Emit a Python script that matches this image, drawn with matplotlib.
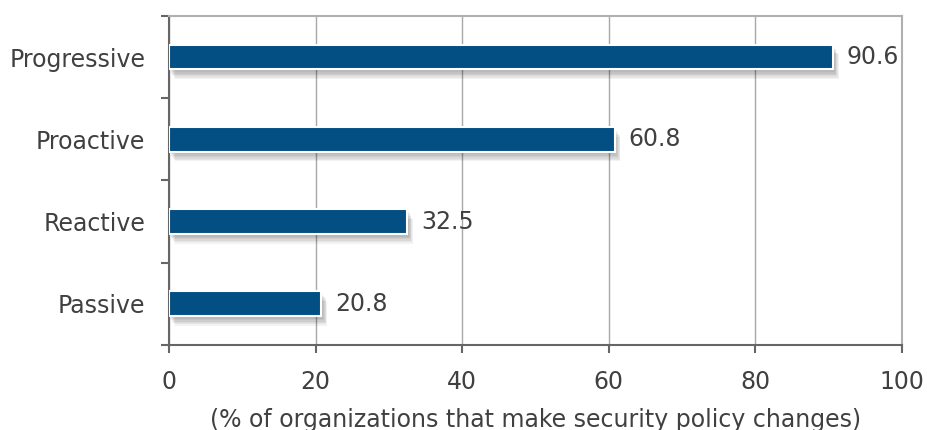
import matplotlib.pyplot as plt
import matplotlib.patheffects as pe
import numpy as np

categories = ["Passive", "Reactive", "Proactive", "Progressive"]
values = [20.8, 32.5, 60.8, 90.6]
x_ticks = [0, 20, 40, 60, 80, 100]
x_label = "(% of organizations that make security policy changes)"

text_color = "#404040"
bar_color = "#034e82"
fsize = 17

plt.rcParams["font.family"] = ["DejaVu Sans"]

fig = plt.figure(figsize=(9.27, 4.3), dpi=100)
ax = fig.add_axes([0.1823, 0.198, 0.7907, 0.765])

y = np.arange(len(categories))

# soft drop shadow built from stacked offset copies
shadow = [pe.SimplePatchShadow(offset=(d * 0.6, -d), shadow_rgbFace="#000000", alpha=0.05)
          for d in (2, 3, 4, 5, 6, 7)]
bars = ax.barh(y, values, height=0.30, color=bar_color, edgecolor="white",
               linewidth=1.5, zorder=3)
for b in bars:
    b.set_path_effects(shadow + [pe.Normal()])

for yi, v in zip(y, values):
    ax.annotate(f"{v}", (v, yi), xytext=(10, 0), textcoords="offset points",
                va="center", ha="left", fontsize=fsize, color=text_color, zorder=4)

ax.set_xlim(0, 100)
ax.set_ylim(-0.5, len(categories) - 0.5)
ax.set_xticks(x_ticks)
ax.set_xticklabels([str(t) for t in x_ticks])
ax.set_yticks(y)
ax.set_yticklabels(categories)
ax.set_yticks(np.arange(-0.5, len(categories)), minor=True)

ax.tick_params(axis="y", which="major", length=0, pad=17, labelsize=fsize,
               labelcolor=text_color)
ax.tick_params(axis="y", which="minor", length=6, width=1.5, color="#666666")
ax.tick_params(axis="x", length=6, width=1.5, color="#666666", pad=12,
               labelsize=fsize, labelcolor=text_color)

ax.xaxis.grid(True, color="#a8a8a8", linewidth=1)
ax.set_axisbelow(True)

for side in ("left", "bottom"):
    ax.spines[side].set_color("#666666")
    ax.spines[side].set_linewidth(1.5)
for side in ("top", "right"):
    ax.spines[side].set_color("#b0b0b0")
    ax.spines[side].set_linewidth(1.5)

ax.set_xlabel(x_label, fontsize=fsize, color=text_color, labelpad=10)

fig.savefig("out.png", dpi=100)
